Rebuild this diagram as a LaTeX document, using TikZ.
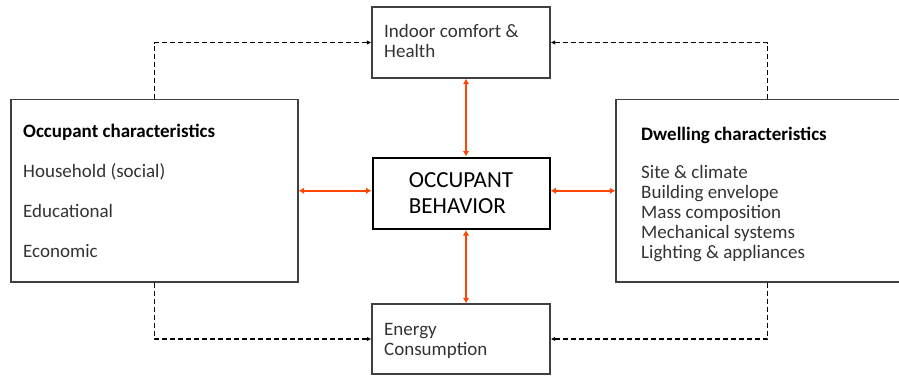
\documentclass[tikz,border=0pt]{standalone}
\usepackage{fontspec}
\setmainfont{Carlito}
\usetikzlibrary{arrows.meta, positioning}
\definecolor{boxgray}{gray}{0.25}
\definecolor{txtgray}{gray}{0.2}
\definecolor{linkred}{RGB}{255,69,0}

\begin{document}
\begin{tikzpicture}[x=1pt, y=1pt, node distance=306.5pt,
    block/.style={rectangle, draw=boxgray, line width=1.3pt, minimum width=178pt, minimum height=71pt},
    core/.style={rectangle, draw=black, line width=2pt, minimum width=177pt, minimum height=71.5pt, align=left, font=\fontsize{23}{26.6}\selectfont},
    panel/.style={rectangle, draw=boxgray, line width=1.3pt, minimum height=182.5pt},
    txt/.style={anchor=base west, inner sep=0pt, align=left, text=txtgray, font=\fontsize{19}{20}\selectfont},
    link/.style={line width=2.4pt, draw=linkred, {Latex[length=5.5pt,width=6.5pt]}-{Latex[length=5.5pt,width=6.5pt]}},
    dasharrow/.style={black, line width=1.1pt, dash pattern=on 5pt off 3pt, -{Latex[length=4.5pt,width=4.5pt]}}]
    \path [use as bounding box, clip] (0,0) rectangle (899,376);
    % boxes
    \node [core] (behav) at (461,182.75) {OCCUPANT\\BEHAVIOR};
    \node [panel, left of=behav, yshift=2.5pt, minimum width=287pt] (occ) {};
    \node [panel, right of=behav, yshift=2.5pt, minimum width=303pt] (dwell) {};
    \node [block, above of=behav, node distance=150.75pt] (comfort) {};
    \node [block, below of=behav, node distance=145.75pt, minimum height=70pt] (energy) {};
    % texts (placed at the baseline of their last line)
    \node [txt] (comfort-txt) at (384,319) {Indoor comfort \&\\Health};
    \node [txt] (energy-txt) at (384,21) {Energy\\Consumption};
    \node [txt] (occ-txt) at (23,118.3) {{\color{black}\bfseries Occupant characteristics}\\[20pt]Household (social)\\[20pt]Educational\\[20pt]Economic};
    \node [txt] (dwell-txt) at (641,118) {{\color{black}\bfseries Dwelling characteristics}\\[18pt]Site \& climate\\Building envelope\\Mass composition\\Mechanical systems\\Lighting \& appliances};

    \draw [link] (occ.east) -- (occ.east -| behav.west);
    \draw [link] (behav.east |- dwell.west) -- (dwell.west);
    \draw [link] ([xshift=5pt]behav.north) -- ([xshift=5pt]comfort.south);
    \draw [link] ([xshift=5pt]behav.south) -- ([xshift=5pt]energy.north);

    \draw [dasharrow] (occ.north) |- (comfort.west);
    \draw [dasharrow] (dwell.north) |- (comfort.east);
    \draw [dasharrow] (occ.south) |- (energy.west);
    \draw [dasharrow] (dwell.south) |- (energy.east);
\end{tikzpicture}
\end{document}
